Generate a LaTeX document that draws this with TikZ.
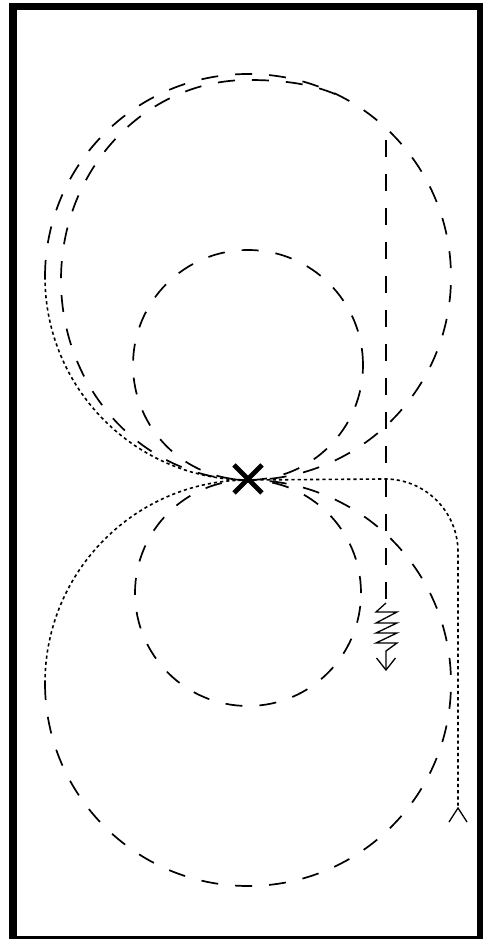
\documentclass[tikz,border=0pt]{standalone}
\begin{document}
\begin{tikzpicture}[x=1pt,y=1pt,
  dsh/.style={line width=1.7pt, dash pattern=on 17pt off 17pt},
  dotline/.style={line width=1.6pt, dash pattern=on 3.2pt off 3pt},
  solidline/.style={line width=1.3pt},
  xmark/.style={line width=4.8pt}]
\useasboundingbox (0,0) rectangle (483,939);
% frame
\fill[black] (9,0) rectangle (483,936);
\fill[white] (17,3) rectangle (477,929);
% key points
\coordinate (X) at (248,459);
\coordinate (UL) at (45,662);
\coordinate (LL) at (45,256);
\coordinate (US) at (248,574);
\coordinate (LS) at (248,346);
\coordinate (M) at (349.5,837.8);
\coordinate (Vs) at (386,811);
\coordinate (Vt) at (386,336);
\coordinate (Vb) at (386,269);
\coordinate (Rc) at (385,460);
\coordinate (Rb) at (458,131);
% big upper circle
\draw[dotline] (X) arc (270:180:203);
\draw[dsh] (UL) arc (180:-90:203);
% big lower circle
\draw[dotline] (X) arc (90:180:203);
\draw[dsh] (LL) arc (180:450:203);
% small circles
\draw[dsh] (US) circle (115);
\draw[dsh] (LS) circle (113);
% inner trajectory
\draw[dsh] (X) arc[start angle=270, end angle=90, x radius=187, y radius=200]
  .. controls (283,859) and (319.2,855.3) .. (M);
\draw[dsh, dash phase=22pt] (Vs) -- (Vt);
% spring and arrow
\draw[solidline] (Vt) -- (376,327) -- (397,327) -- (376,316) -- (397,316)
  -- (376,306) -- (397,306) -- (376,296) -- (397,296) -- (386,288) -- (Vb);
\draw[solidline] (376.5,281) -- (Vb) -- (395.5,281);
% dotted right path
\draw[dotline] (X) -- (Rc) arc (90:0:73) -- (Rb);
\draw[solidline] (449,117) -- (Rb) -- (467,117);
% X marker
\draw[xmark] (234,446) -- (262,474) (234,474) -- (262,446);
\end{tikzpicture}
\end{document}
